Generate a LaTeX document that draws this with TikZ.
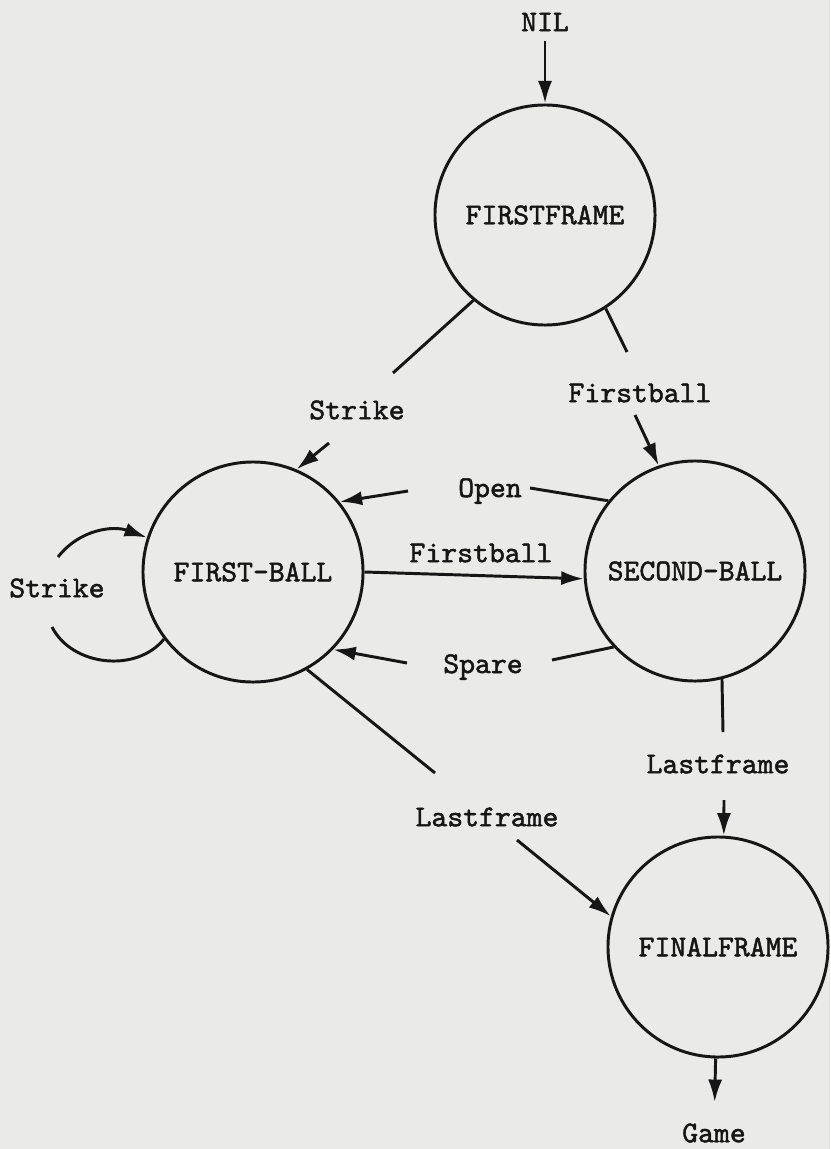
\documentclass[tikz,border=0pt]{standalone}
\usepackage{fontspec}
\usepackage{tikz}
\usetikzlibrary{positioning,arrows.meta}

\newfontfamily\typewriter{lmmono10-regular}[Extension=.otf,FakeBold=1.6]
\definecolor{paper}{RGB}{234,234,232}
\definecolor{ink}{RGB}{22,22,22}
\newcommand{\typed}{\typewriter\fontsize{21.5}{26}\selectfont}
\tikzset{
	state/.style={shape=circle,draw=ink,line width=2.1pt,minimum size=5.5cm,inner sep=0pt,font=\typed,text=ink},
	lbl/.style={font=\typed,text=ink,inner sep=0pt},
	wire/.style={draw=ink,line width=2.1pt},
	>={Latex[length=16pt,width=10pt]}
}

\begin{document}
\begin{tikzpicture}[x=0.025cm,y=0.025cm]
	\fill[paper] (0,0) rectangle (830,-1149);
	% states
	\node[state] (FF) at (545,-215) {FIRSTFRAME};
	\node[state] (FB) at (253,-572) {FIRST-BALL};
	\node[state] (SB) at (695,-571) {SECOND-BALL};
	\node[state] (FN) at (718,-947) {FINALFRAME};
	% labels
	\node[lbl] (nil) at (545,-22) {NIL};
	\node[lbl] (strike1) at (357,-410) {Strike};
	\node[lbl] (first1) at (640,-393) {Firstball};
	\node[lbl] (open) at (490,-491) {Open};
	\node[lbl] (first2) at (481,-553) {Firstball};
	\node[lbl] (strike2) at (57,-588) {Strike};
	\node[lbl] (spare) at (483,-667) {Spare};
	\node[lbl] (last1) at (718,-764) {Lastframe};
	\node[lbl] (last2) at (487,-817) {Lastframe};
	\node[lbl] (game) at (714,-1133) {Game};
	% loose ends beside the labels
	\coordinate (s1a) at (393,-373);
	\coordinate (s1b) at (329,-443);
	\coordinate (f1a) at (627,-352);
	\coordinate (f1b) at (635,-415);
	\coordinate (o1a) at (530,-488);
	\coordinate (o1b) at (408,-491);
	\coordinate (p1a) at (552,-660);
	\coordinate (p1b) at (407,-663);
	\coordinate (l1a) at (723,-732);
	\coordinate (l1b) at (724,-800);
	\coordinate (l2a) at (435,-773);
	\coordinate (l2b) at (517,-840);
	\coordinate (loopa) at (58,-557);
	\coordinate (loopb) at (52,-627);
	% transitions
	\draw[wire,->,shorten <=7pt] (nil) -- (FF);
	\draw[wire] (FF.230) -- (s1a);
	\draw[wire,->] (s1b) -- (FB.67);
	\draw[wire] (FF.303) -- (f1a);
	\draw[wire,->] (f1b) -- (SB.109);
	\draw[wire] (SB.141) -- (o1a);
	\draw[wire,->] (o1b) -- (FB.39);
	\draw[wire,->] (FB.east) -- (SB.184);
	\draw[wire] (SB.223) -- (p1a);
	\draw[wire,->] (p1b) -- (FB.316);
	\draw[wire] (SB.284) -- (l1a);
	\draw[wire,->] (l1b) -- (FN.87);
	\draw[wire] (FB.299) -- (l2a);
	\draw[wire,->] (l2b) -- (FN.164);
	\draw[wire,->,shorten >=15pt] (FN) -- (game);
	\draw[wire,->] (loopa) to[out=52,in=160] (FB.162);
	\draw[wire] (FB.217) to[out=231,in=-63] (loopb);
\end{tikzpicture}
\end{document}
